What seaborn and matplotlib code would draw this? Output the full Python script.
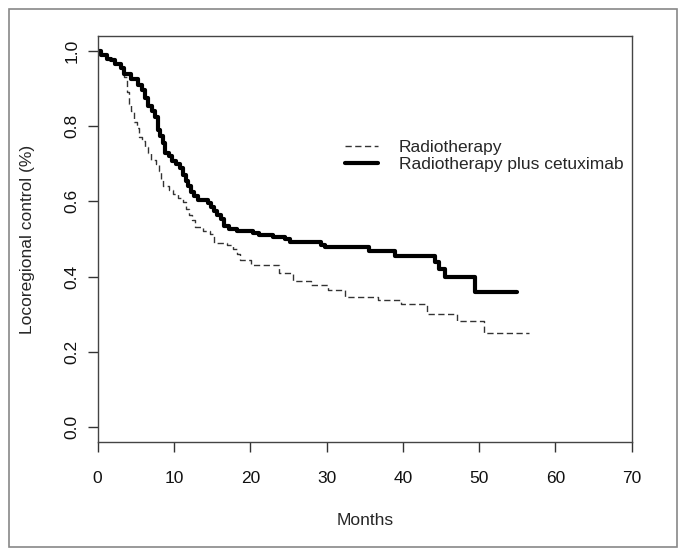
import numpy as np
import pandas as pd
import matplotlib
matplotlib.use('Agg')
import matplotlib.pyplot as plt
import seaborn as sns
from matplotlib.patches import Rectangle

# Curvas de Kaplan-Meier (meses, control locorregional)
rt_months = [0, 0.5, 1.2, 1.8, 2.3, 3.0, 3.4, 3.5, 3.8, 4.1, 4.4, 4.8, 5.1, 5.4, 5.8,
             6.2, 6.6, 7.0, 7.6, 8.0, 8.3, 8.6, 9.3, 9.9, 10.5, 11.2, 11.6, 12.0,
             12.4, 12.7, 13.8, 14.7, 15.3, 16.9, 17.7, 18.2, 18.6, 20.1, 23.8,
             25.6, 28.0, 30.2, 32.4, 36.8, 39.8, 43.2, 47.1, 50.6, 56.5]
rt_control = [1.0, 0.99, 0.98, 0.975, 0.965, 0.955, 0.94, 0.93, 0.89, 0.86, 0.84, 0.81,
              0.795, 0.77, 0.76, 0.745, 0.73, 0.71, 0.70, 0.68, 0.66, 0.64, 0.63, 0.62,
              0.61, 0.598, 0.58, 0.565, 0.55, 0.532, 0.52, 0.513, 0.49, 0.483, 0.474,
              0.46, 0.445, 0.43, 0.41, 0.387, 0.377, 0.365, 0.346, 0.337, 0.327, 0.30,
              0.282, 0.25, 0.25]

cx_months = [0, 0.5, 1.2, 1.8, 2.3, 3.0, 3.4, 4.4, 5.3, 5.8, 6.2, 6.6, 7.1, 7.5, 7.9,
             8.2, 8.5, 8.8, 9.3, 9.7, 10.3, 10.8, 11.2, 11.6, 11.9, 12.2, 12.6, 13.1,
             14.4, 14.8, 15.2, 15.7, 16.1, 16.6, 17.2, 18.2, 20.3, 21.2, 23.0, 24.5,
             25.2, 29.3, 29.8, 35.6, 39.0, 44.2, 44.8, 45.5, 49.5, 54.9]
cx_control = [1.0, 0.99, 0.98, 0.975, 0.965, 0.955, 0.94, 0.925, 0.91, 0.895, 0.875,
              0.855, 0.84, 0.825, 0.79, 0.775, 0.755, 0.73, 0.72, 0.708, 0.70, 0.69,
              0.67, 0.655, 0.64, 0.625, 0.615, 0.603, 0.595, 0.585, 0.575, 0.565,
              0.553, 0.535, 0.527, 0.522, 0.517, 0.51, 0.505, 0.50, 0.492, 0.485,
              0.478, 0.467, 0.456, 0.44, 0.42, 0.398, 0.358, 0.358]

labels = ['Radiotherapy', 'Radiotherapy plus cetuximab']
x_ticks = [0, 10, 20, 30, 40, 50, 60, 70]
y_ticks = [0.0, 0.2, 0.4, 0.6, 0.8, 1.0]

df_rt = pd.DataFrame({'months': rt_months, 'control': rt_control})
df_cx = pd.DataFrame({'months': cx_months, 'control': cx_control})

sns.set_style('white')
plt.rcParams['font.family'] = ['Liberation Sans', 'DejaVu Sans']

fig = plt.figure(figsize=(6.85, 5.57), dpi=100)
ax = fig.add_axes([0.1426, 0.2065, 0.7796, 0.7289])

sns.lineplot(data=df_rt, x='months', y='control', drawstyle='steps-post',
             estimator=None, sort=False, color='#333333', linewidth=1.0,
             linestyle=(0, (4.5, 2.5)), ax=ax, label=labels[0])
sns.lineplot(data=df_cx, x='months', y='control', drawstyle='steps-post',
             estimator=None, sort=False, color='black', linewidth=3.0,
             ax=ax, label=labels[1])

ax.set_xlim(0, 70)
ax.set_ylim(-0.04, 1.04)
ax.set_xticks(x_ticks)
ax.set_yticks(y_ticks)
ax.set_yticklabels([f'{v:.1f}' for v in y_ticks], rotation=90, va='center')
ax.tick_params(axis='both', direction='out', length=7.2, width=1.0,
               color='#333333', labelsize=12.5, colors='#111111')
ax.tick_params(axis='x', pad=14)
ax.tick_params(axis='y', pad=6)
ax.tick_params(left=True, bottom=True)

for s in ax.spines.values():
    s.set_color('#444444')
    s.set_linewidth(1.0)

ax.set_xlabel('Months', fontsize=12.5, labelpad=19)
ax.set_ylabel('Locoregional control (%)', fontsize=12.5, labelpad=21)

leg = ax.legend(loc='upper left', bbox_to_anchor=(0.463, 0.745), frameon=False,
                fontsize=12.5, handlelength=1.9, handletextpad=1.2,
                labelspacing=0.15, borderpad=0, borderaxespad=0)

# Marco exterior gris
fig.patches.append(Rectangle((0.0131, 0.018), 0.9752, 0.9659, transform=fig.transFigure,
                             fill=False, edgecolor='#888888', linewidth=1.2))

fig.savefig('out.png', dpi=100)
